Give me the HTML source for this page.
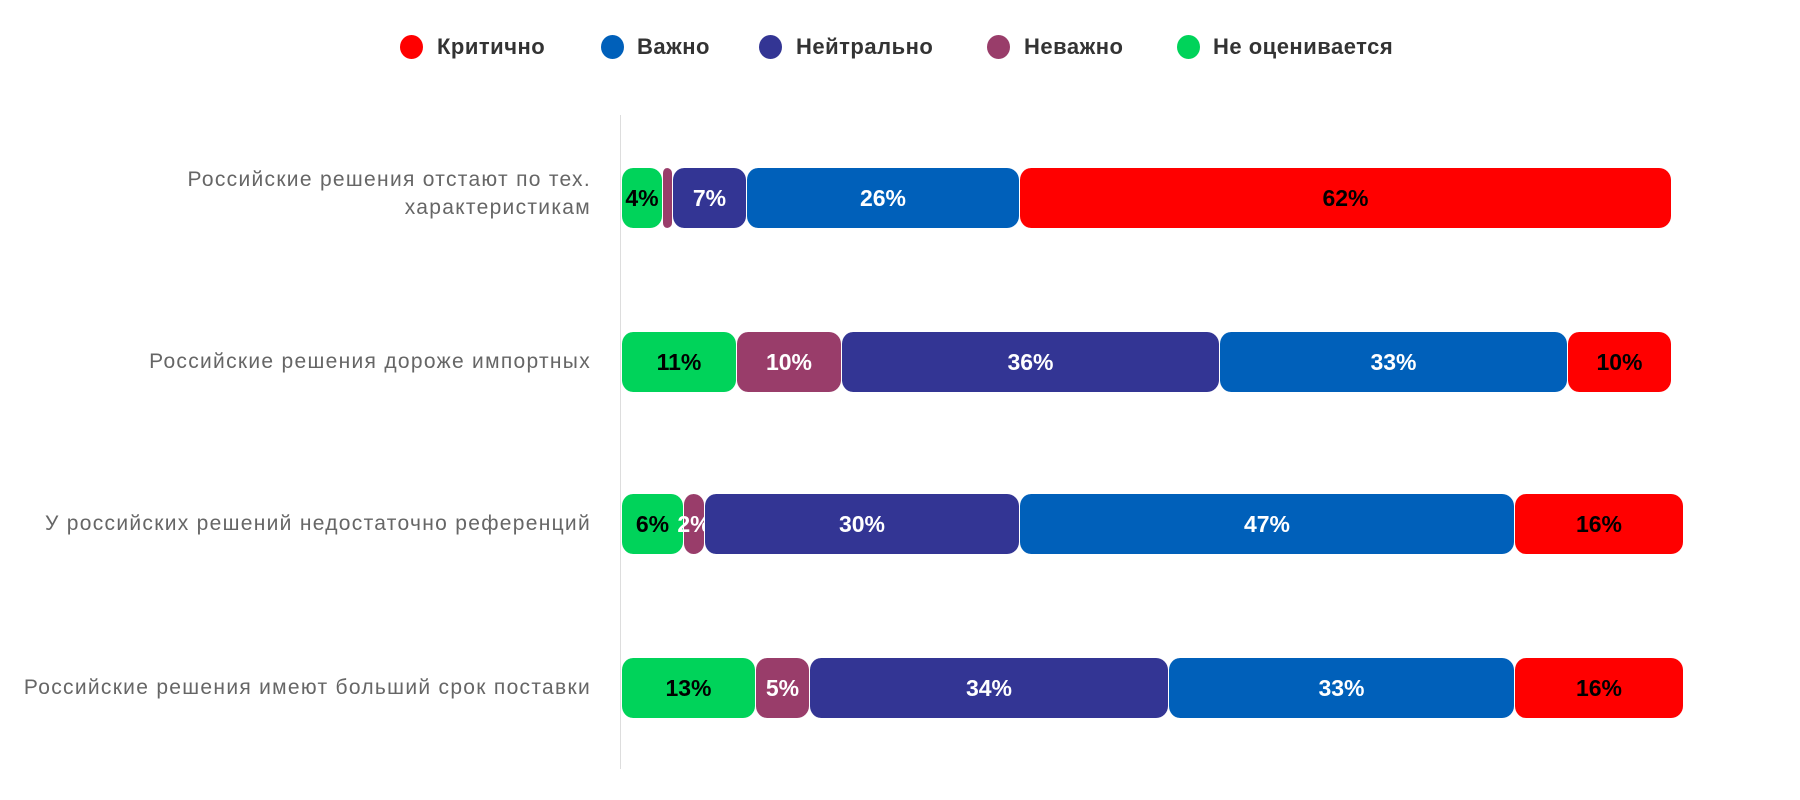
<!DOCTYPE html>
<html><head><meta charset="utf-8"><style>
body{margin:0;width:1800px;height:800px;background:#fff;position:relative;overflow:hidden;font-family:"Liberation Sans",sans-serif}
.c{position:absolute;top:35px;width:23px;height:24px;border-radius:50%}
.lt{position:absolute;top:34px;font-size:22px;font-weight:bold;color:#333;letter-spacing:0.5px;line-height:26px}
.s{position:absolute;height:60px;border-radius:12px;display:flex;align-items:center;justify-content:center;font-weight:bold;font-size:23px;color:#fff;box-sizing:border-box;border-left:1px solid #fff;overflow:visible;white-space:nowrap}
.g{background:#00d35a;color:#000}.m{background:#993d6a}.p{background:#333594}.b{background:#0060ba}.r{background:#ff0000;color:#000}
.lab{position:absolute;right:1209px;text-align:right;font-size:21px;letter-spacing:1.3px;color:#666;line-height:28px;white-space:nowrap}
</style></head><body>
<div class="c" style="left:400px;background:#ff0000"></div><div class="lt" style="left:437px">Критично</div>
<div class="c" style="left:601px;background:#0060ba"></div><div class="lt" style="left:637px">Важно</div>
<div class="c" style="left:759px;background:#333594"></div><div class="lt" style="left:796px">Нейтрально</div>
<div class="c" style="left:987px;background:#993d6a"></div><div class="lt" style="left:1024px">Неважно</div>
<div class="c" style="left:1177px;background:#00d35a"></div><div class="lt" style="left:1213px">Не оценивается</div>
<div style="position:absolute;left:620px;top:115px;width:1px;height:654px;background:#ddd"></div>

<div class="lab" style="top:166px">Российские решения отстают по тех.<br>характеристикам</div>
<div class="lab" style="top:348px">Российские решения дороже импортных</div>
<div class="lab" style="top:510px">У российских решений недостаточно референций</div>
<div class="lab" style="top:674px">Российские решения имеют больший срок поставки</div>

<div class="s g" style="top:168px;left:621px;width:41px">4%</div>
<div class="s m" style="top:168px;left:662px;width:10px"></div>
<div class="s p" style="top:168px;left:672px;width:74px">7%</div>
<div class="s b" style="top:168px;left:746px;width:273px">26%</div>
<div class="s r" style="top:168px;left:1019px;width:652px">62%</div>

<div class="s g" style="top:332px;left:621px;width:115px">11%</div>
<div class="s m" style="top:332px;left:736px;width:105px">10%</div>
<div class="s p" style="top:332px;left:841px;width:378px">36%</div>
<div class="s b" style="top:332px;left:1219px;width:348px">33%</div>
<div class="s r" style="top:332px;left:1567px;width:104px">10%</div>

<div class="s g" style="top:494px;left:621px;width:62px">6%</div>
<div class="s m" style="top:494px;left:683px;width:21px">2%</div>
<div class="s p" style="top:494px;left:704px;width:315px">30%</div>
<div class="s b" style="top:494px;left:1019px;width:495px">47%</div>
<div class="s r" style="top:494px;left:1514px;width:169px">16%</div>

<div class="s g" style="top:658px;left:621px;width:134px">13%</div>
<div class="s m" style="top:658px;left:755px;width:54px">5%</div>
<div class="s p" style="top:658px;left:809px;width:359px">34%</div>
<div class="s b" style="top:658px;left:1168px;width:346px">33%</div>
<div class="s r" style="top:658px;left:1514px;width:169px">16%</div>
</body></html>
